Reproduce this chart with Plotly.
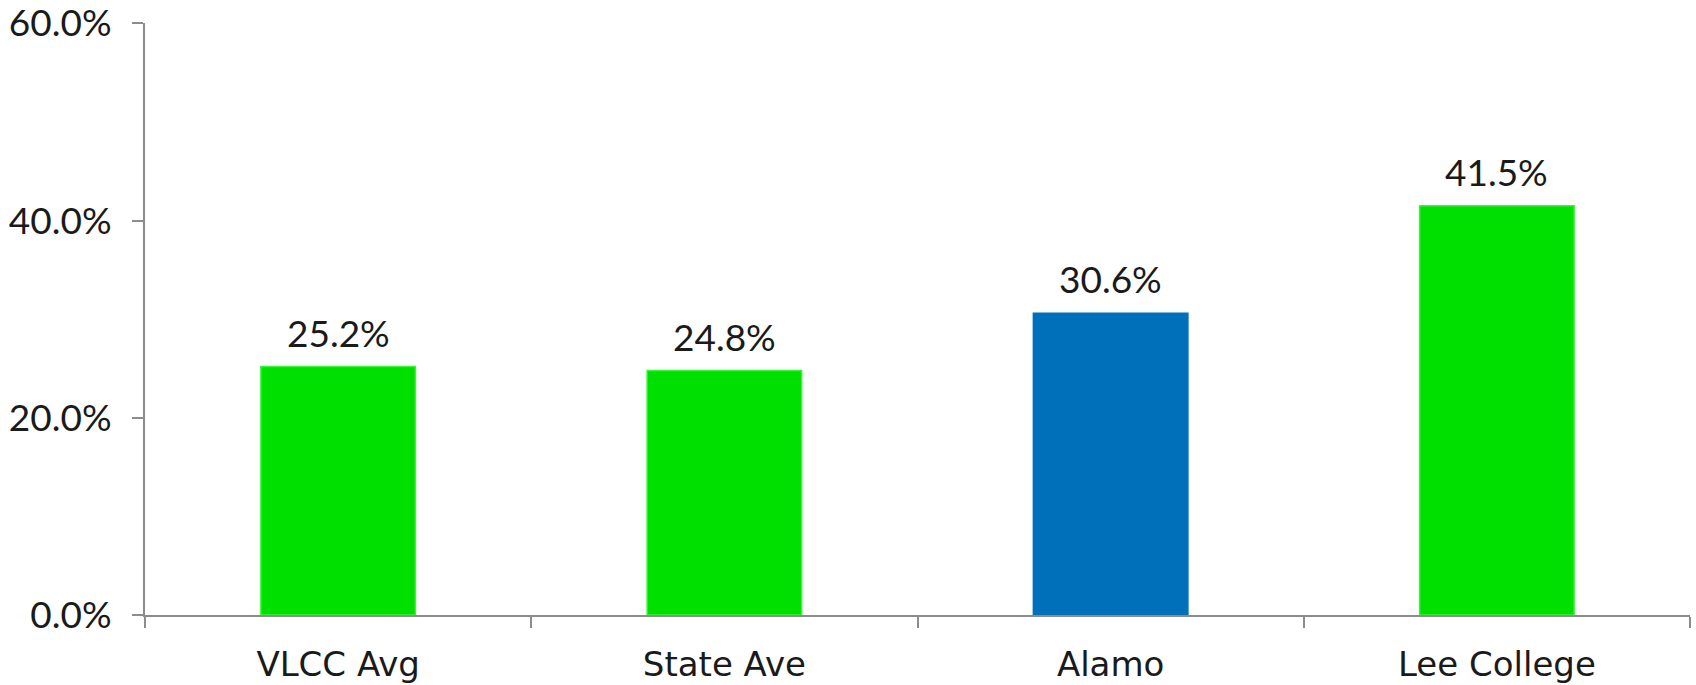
import plotly.graph_objects as go

categories = ["VLCC Avg", "State Ave", "Alamo", "Lee College"]
values = [0.252, 0.248, 0.306, 0.415]
bar_colors = ["#00E000", "#00E000", "#0070BA", "#00E000"]
line_colors = ["#3CF03C", "#3CF03C", "#0070BA", "#3CF03C"]

NUM_FONT = "Lato, Open Sans, sans-serif"
CAT_FONT = "DejaVu Sans, sans-serif"
AXIS = "#8C8C8C"
TXT = "#1a1a1a"

fig = go.Figure()
fig.add_trace(go.Bar(
    x=categories, y=values,
    marker=dict(color=bar_colors, line=dict(color=line_colors, width=1.5)),
    width=0.4,
    hoverinfo="skip",
))

for c, v in zip(categories, values):
    fig.add_annotation(x=c, y=v, text=f"{v*100:.1f}%", showarrow=False,
                       yanchor="bottom", yshift=10,
                       font=dict(family=NUM_FONT, size=37, color=TXT))

fig.update_layout(
    width=1696, height=685,
    margin=dict(l=145, r=6, t=23, b=70),
    paper_bgcolor="white", plot_bgcolor="white",
    showlegend=False,
    font=dict(family=NUM_FONT, size=36, color=TXT),
    xaxis=dict(
        automargin=False,
        showline=True, linecolor=AXIS, linewidth=2,
        ticks="outside", tickson="boundaries", ticklen=11, tickwidth=2, tickcolor=AXIS,
        showgrid=False, zeroline=False,
        ticklabelstandoff=18,
        tickfont=dict(family=CAT_FONT, size=34, color=TXT),
    ),
    yaxis=dict(
        automargin=False,
        range=[0, 0.6005], tickvals=[0, 0.2, 0.4, 0.6], tickformat=".1%",
        showline=True, linecolor=AXIS, linewidth=2,
        ticks="outside", ticklen=11, tickwidth=2, tickcolor=AXIS,
        showgrid=False, zeroline=False,
        ticklabelstandoff=13, ticklabeloverflow="allow",
        tickfont=dict(family=NUM_FONT, size=37, color=TXT),
    ),
)

fig.write_html("out.html", config={"displayModeBar": False},
               post_script="document.body.style.margin='0';")
